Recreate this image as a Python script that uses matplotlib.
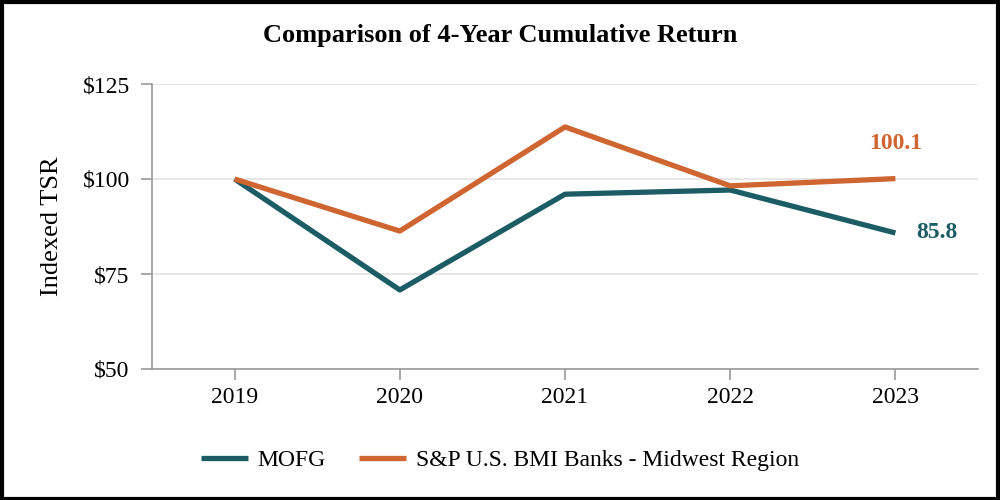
import matplotlib
matplotlib.use("Agg")
import matplotlib.pyplot as plt
from matplotlib.patches import Rectangle

# data
years = ["2019", "2020", "2021", "2022", "2023"]
mofg = [100.0, 70.8, 96.0, 97.1, 85.8]
sp_midwest = [100.0, 86.3, 113.7, 98.2, 100.1]
y_ticks = [50, 75, 100, 125]

teal = "#1b5c65"
orange = "#cf6530"

plt.rcParams["font.family"] = ["Liberation Serif", "DejaVu Serif"]

fig = plt.figure(figsize=(10, 5), dpi=100)
ax = fig.add_axes([0.152, 0.262, 0.826, 0.57])

x = list(range(len(years)))
ax.plot(x, mofg, color=teal, linewidth=3.8, label="MOFG", solid_capstyle="butt")
ax.plot(x, sp_midwest, color=orange, linewidth=3.8,
        label="S&P U.S. BMI Banks - Midwest Region", solid_capstyle="butt")

# end labels
ax.annotate(f"{sp_midwest[-1]:.1f}", xy=(x[-1], sp_midwest[-1]), xytext=(0, 25),
            textcoords="offset points", color=orange, fontsize=17, fontweight="bold",
            ha="center", va="center")
ax.annotate(f"{mofg[-1]:.1f}", xy=(x[-1], mofg[-1]), xytext=(30, 0),
            textcoords="offset points", color=teal, fontsize=17, fontweight="bold",
            ha="center", va="center")

ax.set_xlim(-0.5, len(years) - 0.5)
ax.set_ylim(50, 125)
ax.set_xticks(x)
ax.set_xticklabels(years)
ax.set_yticks(y_ticks)
ax.set_yticklabels([f"${v}" for v in y_ticks])
ax.tick_params(axis="both", labelsize=17, color="#999999", length=8, width=1.2, pad=5)
ax.tick_params(axis="y", pad=8)
ax.grid(axis="y", color="#e3e3e3", linewidth=1.2)
ax.set_axisbelow(True)
for side in ["top", "right"]:
    ax.spines[side].set_visible(False)
for side in ["left", "bottom"]:
    ax.spines[side].set_color("#999999")
    ax.spines[side].set_linewidth(1.2)
ax.set_ylabel("Indexed TSR", fontsize=19, labelpad=14)

fig.suptitle("Comparison of 4-Year Cumulative Return", fontsize=19,
             fontweight="bold", y=0.952)

fig.legend(loc="center", bbox_to_anchor=(0.5, 0.08), ncol=2, frameon=False,
           fontsize=17, handlelength=2.0, columnspacing=1.4, handletextpad=0.4)

# outer frame
fig.patches.append(Rectangle((0.002, 0.003), 0.996, 0.994, transform=fig.transFigure,
                             fill=False, edgecolor="black", linewidth=3))

fig.savefig("out.png", dpi=100, facecolor="white")
